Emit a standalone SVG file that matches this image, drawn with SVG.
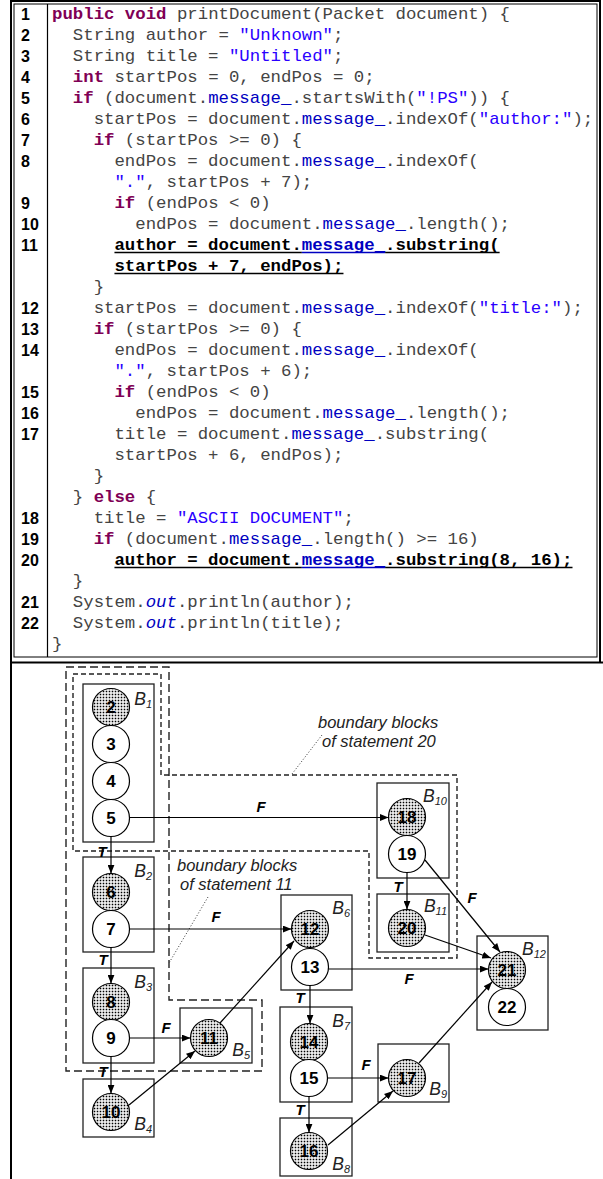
<svg xmlns="http://www.w3.org/2000/svg" width="603" height="1179" viewBox="0 0 603 1179">
<style>
.c{font-family:"Liberation Mono",monospace;font-size:17.35px;fill:#444}
.k{fill:#7F0055;font-weight:bold}
.s{fill:#2A00FF}
.f{fill:#0000C0}
.o{fill:#0000C0;font-style:italic}
.b{fill:#000;font-weight:bold}
.bf{fill:#0000C0;font-weight:bold}
.ln{font-family:"Liberation Sans",Arial,sans-serif;font-size:16px;font-weight:bold;fill:#000}
.frame{fill:none;stroke:#000}
.blk{fill:#fff;stroke:#222;stroke-width:1.3}
.nd{fill:#fff;stroke:#000;stroke-width:1.2}
.sh{fill:url(#dots);stroke:#000;stroke-width:1.2}
.nt{font-family:"Liberation Sans",Arial,sans-serif;font-size:17px;font-weight:bold;fill:#000;text-anchor:middle}
.bl{font-family:"Liberation Sans",Arial,sans-serif;font-size:17.5px;font-style:italic;fill:#222;text-anchor:end}
.sub{font-size:11px}
.tf{font-family:"Liberation Sans",Arial,sans-serif;font-size:15px;font-weight:bold;font-style:italic;fill:#000;text-anchor:middle}
.e{fill:none;stroke:#000;stroke-width:1.2;marker-end:url(#ah)}
.r11{fill:none;stroke:#222;stroke-width:1.4;stroke-dasharray:8 4}
.r20{fill:none;stroke:#222;stroke-width:1.4;stroke-dasharray:5 3}
.lead{fill:none;stroke:#333;stroke-width:1;stroke-dasharray:1 2}
.note{font-family:"Liberation Sans",Arial,sans-serif;font-size:16.5px;font-style:italic;fill:#222}
.ul{stroke:#000;stroke-width:1.5}
.ulb{stroke:#0000C0;stroke-width:1.5}
</style>
<defs>
<pattern id="dots" width="3" height="3" patternUnits="userSpaceOnUse"><rect width="3" height="3" fill="#fff"/><rect x="0.7" y="0.7" width="1.6" height="1.6" fill="#000"/></pattern>
<marker id="ah" viewBox="0 0 10 8" refX="10" refY="4" markerWidth="9" markerHeight="7" markerUnits="userSpaceOnUse" orient="auto"><path d="M0,0 L10,4 L0,8 z" fill="#000"/></marker>
</defs>
<rect width="603" height="1179" fill="#fff"/>
<g id="frames">
<path class="frame" stroke-width="2" d="M11,0 V1179 M10,1 H601 M600,0 V662 M10,662.5 H603"/>
<rect class="frame" stroke-width="1" x="14" y="4" width="583" height="653"/>
<line class="frame" stroke-width="1.2" x1="47.5" y1="4" x2="47.5" y2="657"/>
</g>
<g id="code">
<g id="line-numbers">
<text class="ln" x="21" y="19.5">1</text>
<text class="ln" x="21" y="40.5">2</text>
<text class="ln" x="21" y="61.5">3</text>
<text class="ln" x="21" y="82.5">4</text>
<text class="ln" x="21" y="103.5">5</text>
<text class="ln" x="21" y="124.5">6</text>
<text class="ln" x="21" y="145.5">7</text>
<text class="ln" x="21" y="166.5">8</text>
<text class="ln" x="21" y="208.5">9</text>
<text class="ln" x="21" y="229.5">10</text>
<text class="ln" x="21" y="250.5">11</text>
<text class="ln" x="21" y="313.5">12</text>
<text class="ln" x="21" y="334.5">13</text>
<text class="ln" x="21" y="355.5">14</text>
<text class="ln" x="21" y="397.5">15</text>
<text class="ln" x="21" y="418.5">16</text>
<text class="ln" x="21" y="439.5">17</text>
<text class="ln" x="21" y="523.5">18</text>
<text class="ln" x="21" y="544.5">19</text>
<text class="ln" x="21" y="565.5">20</text>
<text class="ln" x="21" y="607.5">21</text>
<text class="ln" x="21" y="628.5">22</text>
</g>
<g id="source" xml:space="preserve">
<text class="c" x="52" y="19"><tspan class="k">public void</tspan> printDocument(Packet document) {</text>
<text class="c" x="72.82" y="40">String author = <tspan class="s">"Unknown"</tspan>;</text>
<text class="c" x="72.82" y="61">String title = <tspan class="s">"Untitled"</tspan>;</text>
<text class="c" x="72.82" y="82"><tspan class="k">int</tspan> startPos = 0, endPos = 0;</text>
<text class="c" x="72.82" y="103"><tspan class="k">if</tspan> (document.<tspan class="f">message_</tspan>.startsWith(<tspan class="s">"!PS"</tspan>)) {</text>
<text class="c" x="93.64" y="124">startPos = document.<tspan class="f">message_</tspan>.indexOf(<tspan class="s">"author:"</tspan>);</text>
<text class="c" x="93.64" y="145"><tspan class="k">if</tspan> (startPos &gt;= 0) {</text>
<text class="c" x="114.46" y="166">endPos = document.<tspan class="f">message_</tspan>.indexOf(</text>
<text class="c" x="114.46" y="187"><tspan class="s">"."</tspan>, startPos + 7);</text>
<text class="c" x="114.46" y="208"><tspan class="k">if</tspan> (endPos &lt; 0)</text>
<text class="c" x="135.28" y="229">endPos = document.<tspan class="f">message_</tspan>.length();</text>
<text class="c" x="114.46" y="250"><tspan class="b">author = document.</tspan><tspan class="bf">message_</tspan><tspan class="b">.substring(</tspan></text>
<text class="c" x="114.46" y="271"><tspan class="b">startPos + 7, endPos);</tspan></text>
<text class="c" x="93.64" y="292">}</text>
<text class="c" x="93.64" y="313">startPos = document.<tspan class="f">message_</tspan>.indexOf(<tspan class="s">"title:"</tspan>);</text>
<text class="c" x="93.64" y="334"><tspan class="k">if</tspan> (startPos &gt;= 0) {</text>
<text class="c" x="114.46" y="355">endPos = document.<tspan class="f">message_</tspan>.indexOf(</text>
<text class="c" x="114.46" y="376"><tspan class="s">"."</tspan>, startPos + 6);</text>
<text class="c" x="114.46" y="397"><tspan class="k">if</tspan> (endPos &lt; 0)</text>
<text class="c" x="135.28" y="418">endPos = document.<tspan class="f">message_</tspan>.length();</text>
<text class="c" x="114.46" y="439">title = document.<tspan class="f">message_</tspan>.substring(</text>
<text class="c" x="114.46" y="460">startPos + 6, endPos);</text>
<text class="c" x="93.64" y="481">}</text>
<text class="c" x="72.82" y="502">} <tspan class="k">else</tspan> {</text>
<text class="c" x="93.64" y="523">title = <tspan class="s">"ASCII DOCUMENT"</tspan>;</text>
<text class="c" x="93.64" y="544"><tspan class="k">if</tspan> (document.<tspan class="f">message_</tspan>.length() &gt;= 16)</text>
<text class="c" x="114.46" y="565"><tspan class="b">author = document.</tspan><tspan class="bf">message_</tspan><tspan class="b">.substring(8, 16);</tspan></text>
<text class="c" x="72.82" y="586">}</text>
<text class="c" x="72.82" y="607">System.<tspan class="o">out</tspan>.println(author);</text>
<text class="c" x="72.82" y="628">System.<tspan class="o">out</tspan>.println(title);</text>
<text class="c" x="52" y="649">}</text>
</g>
<g id="underlines">
<line class="ul" x1="114.46" y1="252.5" x2="301.84" y2="252.5"/>
<line class="ulb" x1="301.84" y1="252.5" x2="385.12" y2="252.5"/>
<line class="ul" x1="385.12" y1="252.5" x2="499.63" y2="252.5"/>
<line class="ul" x1="114.46" y1="273.5" x2="343.48" y2="273.5"/>
<line class="ul" x1="114.46" y1="567.5" x2="301.84" y2="567.5"/>
<line class="ulb" x1="301.84" y1="567.5" x2="385.12" y2="567.5"/>
<line class="ul" x1="385.12" y1="567.5" x2="572.5" y2="567.5"/>
</g>
</g>
<g id="regions">
<path id="region-stmt11" class="r11" d="M66,667 H169 V1000 H262 V1071 H66 Z"/>
<path id="region-stmt20" class="r20" d="M73,674 H161 V775 H457 V958 H369 V851 H73 Z"/>
<path class="lead" d="M322,735 L292,774"/>
<path class="lead" d="M208,897 L169,963"/>
<text class="note" x="318" y="728">boundary blocks</text>
<text class="note" x="322" y="747">of statement 20</text>
<text class="note" x="177" y="871">boundary blocks</text>
<text class="note" x="180" y="890">of statement 11</text>
</g>
<g id="blocks">
<g id="B1"><rect class="blk" x="83" y="684" width="71" height="158"/><text class="bl" x="152" y="705">B<tspan class="sub" dy="3">1</tspan></text></g>
<g id="B2"><rect class="blk" x="83" y="857" width="71" height="95"/><text class="bl" x="152" y="877">B<tspan class="sub" dy="3">2</tspan></text></g>
<g id="B3"><rect class="blk" x="83" y="968" width="71" height="95"/><text class="bl" x="152" y="988">B<tspan class="sub" dy="3">3</tspan></text></g>
<g id="B4"><rect class="blk" x="83" y="1079" width="71" height="58"/><text class="bl" x="152" y="1130">B<tspan class="sub" dy="3">4</tspan></text></g>
<g id="B5"><rect class="blk" x="180" y="1008" width="72" height="55"/><text class="bl" x="250" y="1056">B<tspan class="sub" dy="3">5</tspan></text></g>
<g id="B6"><rect class="blk" x="281" y="895" width="71" height="95"/><text class="bl" x="350" y="914">B<tspan class="sub" dy="3">6</tspan></text></g>
<g id="B7"><rect class="blk" x="280" y="1007" width="72" height="95"/><text class="bl" x="350" y="1027">B<tspan class="sub" dy="3">7</tspan></text></g>
<g id="B8"><rect class="blk" x="280" y="1118" width="72" height="58"/><text class="bl" x="350" y="1170">B<tspan class="sub" dy="3">8</tspan></text></g>
<g id="B9"><rect class="blk" x="378" y="1044" width="71" height="58"/><text class="bl" x="447" y="1095">B<tspan class="sub" dy="3">9</tspan></text></g>
<g id="B10"><rect class="blk" x="377" y="783" width="72" height="95"/><text class="bl" x="447" y="802">B<tspan class="sub" dy="3">10</tspan></text></g>
<g id="B11"><rect class="blk" x="377" y="894" width="72" height="58"/><text class="bl" x="447" y="912">B<tspan class="sub" dy="3">11</tspan></text></g>
<g id="B12"><rect class="blk" x="477" y="936" width="71" height="94"/><text class="bl" x="546" y="955">B<tspan class="sub" dy="3">12</tspan></text></g>
</g>
<g id="connectors">
<line class="e" x1="129.5" y1="817.5" x2="388.5" y2="817.5"/>
<line class="e" x1="111" y1="836.5" x2="111" y2="873.5"/>
<line class="e" x1="129.5" y1="929" x2="291.5" y2="929"/>
<line class="e" x1="111" y1="947.5" x2="111" y2="983.5"/>
<line class="e" x1="111" y1="1056.5" x2="111" y2="1093.5"/>
<line class="e" x1="129.5" y1="1038" x2="190.5" y2="1038"/>
<line class="e" x1="129" y1="1105" x2="195" y2="1051"/>
<line class="e" x1="220" y1="1023" x2="294" y2="941"/>
<line class="e" x1="328.5" y1="969" x2="488.5" y2="969"/>
<line class="e" x1="310" y1="985.5" x2="310" y2="1023.5"/>
<line class="e" x1="309" y1="1096.5" x2="309" y2="1132.5"/>
<line class="e" x1="327.5" y1="1078" x2="388.5" y2="1078"/>
<line class="e" x1="328" y1="1145" x2="393" y2="1091"/>
<line class="e" x1="419" y1="1063" x2="492" y2="982"/>
<line class="e" x1="407" y1="872.5" x2="407" y2="909.5"/>
<line class="e" x1="425" y1="860" x2="500" y2="952"/>
<line class="e" x1="425" y1="935" x2="491" y2="958"/>
<text class="tf" x="261" y="812">F</text>
<text class="tf" x="102" y="857">T</text>
<text class="tf" x="216" y="922">F</text>
<text class="tf" x="103" y="965">T</text>
<text class="tf" x="103" y="1077">T</text>
<text class="tf" x="166" y="1033">F</text>
<text class="tf" x="409" y="984">F</text>
<text class="tf" x="300" y="1003">T</text>
<text class="tf" x="300" y="1115">T</text>
<text class="tf" x="366" y="1070">F</text>
<text class="tf" x="398" y="892">T</text>
<text class="tf" x="472" y="903">F</text>
</g>
<g id="nodes">
<g id="n2"><circle class="sh" cx="111" cy="707" r="18.5"/><text class="nt" x="111" y="713">2</text></g>
<g id="n3"><circle class="nd" cx="111" cy="744" r="18.5"/><text class="nt" x="111" y="750">3</text></g>
<g id="n4"><circle class="nd" cx="111" cy="781" r="18.5"/><text class="nt" x="111" y="787">4</text></g>
<g id="n5"><circle class="nd" cx="111" cy="818" r="18.5"/><text class="nt" x="111" y="824">5</text></g>
<g id="n6"><circle class="sh" cx="111" cy="892" r="18.5"/><text class="nt" x="111" y="898">6</text></g>
<g id="n7"><circle class="nd" cx="111" cy="929" r="18.5"/><text class="nt" x="111" y="935">7</text></g>
<g id="n8"><circle class="sh" cx="111" cy="1002" r="18.5"/><text class="nt" x="111" y="1008">8</text></g>
<g id="n9"><circle class="nd" cx="111" cy="1038" r="18.5"/><text class="nt" x="111" y="1044">9</text></g>
<g id="n10"><circle class="sh" cx="111" cy="1112" r="18.5"/><text class="nt" x="111" y="1118">10</text></g>
<g id="n11"><circle class="sh" cx="209" cy="1038" r="18.5"/><text class="nt" x="209" y="1044">11</text></g>
<g id="n12"><circle class="sh" cx="310" cy="929" r="18.5"/><text class="nt" x="310" y="935">12</text></g>
<g id="n13"><circle class="nd" cx="310" cy="967" r="18.5"/><text class="nt" x="310" y="973">13</text></g>
<g id="n14"><circle class="sh" cx="309" cy="1042" r="18.5"/><text class="nt" x="309" y="1048">14</text></g>
<g id="n15"><circle class="nd" cx="309" cy="1078" r="18.5"/><text class="nt" x="309" y="1084">15</text></g>
<g id="n16"><circle class="sh" cx="309" cy="1151" r="18.5"/><text class="nt" x="309" y="1157">16</text></g>
<g id="n17"><circle class="sh" cx="407" cy="1078" r="18.5"/><text class="nt" x="407" y="1084">17</text></g>
<g id="n18"><circle class="sh" cx="407" cy="817" r="18.5"/><text class="nt" x="407" y="823">18</text></g>
<g id="n19"><circle class="nd" cx="407" cy="854" r="18.5"/><text class="nt" x="407" y="860">19</text></g>
<g id="n20"><circle class="sh" cx="407" cy="928" r="18.5"/><text class="nt" x="407" y="934">20</text></g>
<g id="n21"><circle class="sh" cx="507" cy="970" r="18.5"/><text class="nt" x="507" y="976">21</text></g>
<g id="n22"><circle class="nd" cx="507" cy="1007" r="18.5"/><text class="nt" x="507" y="1013">22</text></g>
</g>
</svg>
